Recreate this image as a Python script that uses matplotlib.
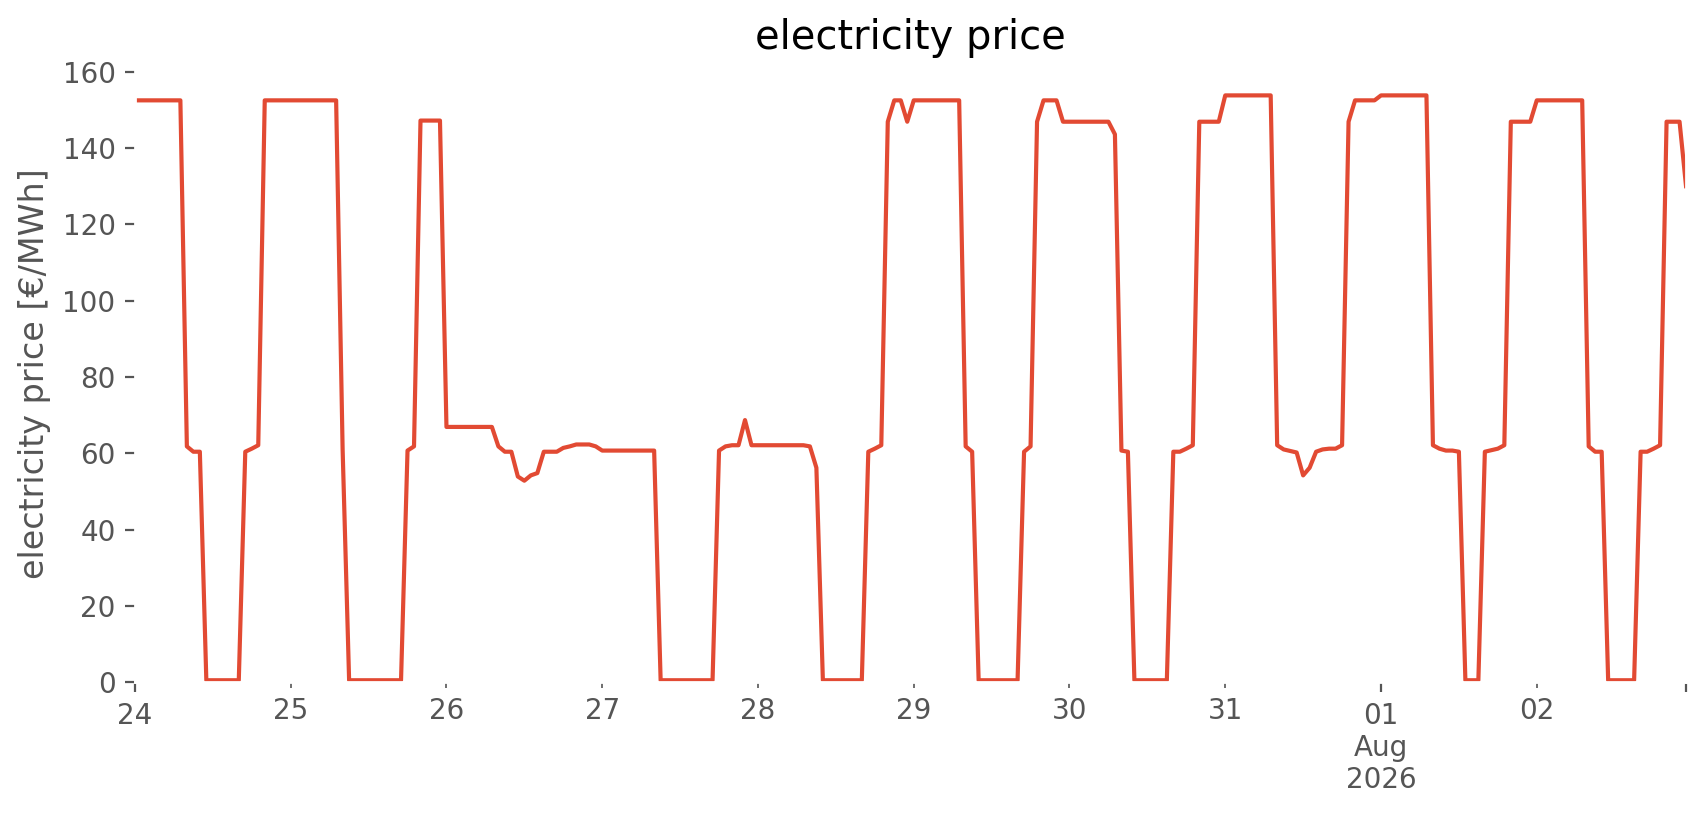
import matplotlib
matplotlib.use('Agg')
import matplotlib.pyplot as plt
import pandas as pd

# hourly prices in EUR/MWh, one list per day (Jul 24 - Aug 2, 2026)
start = '2026-07-24 00:00'
jul24 = [152.5] * 8 + [61.8, 60.4, 60.4] + [0.5] * 6 + [60.4, 61.2, 62.1] + [152.5] * 4
jul25 = [152.5] * 8 + [61.0] + [0.5] * 9 + [60.7, 61.8] + [147.2] * 4
jul26 = [66.9] * 8 + [61.8, 60.4, 60.4, 53.9, 52.8, 54.2, 54.8, 60.4,
                      60.4, 60.4, 61.4, 61.8, 62.3, 62.3, 62.3, 61.8]
jul27 = [60.7] * 9 + [0.5] * 9 + [60.7, 61.8, 62.1, 62.1, 68.7, 62.1]
jul28 = [62.1] * 8 + [61.8, 56.2] + [0.5] * 7 + [60.4, 61.2, 62.1, 146.9, 152.5, 152.5, 146.9]
jul29 = [152.5] * 8 + [61.8, 60.4] + [0.5] * 7 + [60.4, 61.8, 146.9] + [152.5] * 3 + [146.9]
jul30 = [146.9] * 7 + [143.6, 60.7, 60.4] + [0.5] * 6 + [60.4, 60.4, 61.2, 62.1] + [146.9] * 4
jul31 = [153.8] * 8 + [62.1, 61.0, 60.6, 60.2, 54.2, 56.2, 60.4, 61.0,
                       61.2, 61.2, 62.1, 146.9] + [152.5] * 4
aug01 = [153.8] * 8 + [62.1, 61.2, 60.7, 60.7, 60.4] + [0.5] * 3 + [60.4, 60.8, 61.2, 62.1] + [146.9] * 4
aug02 = [152.5] * 8 + [61.8, 60.4, 60.4] + [0.5] * 5 + [60.4, 60.4, 61.2, 62.1] + [146.9] * 3 + [130.0]

days = [jul24, jul25, jul26, jul27, jul28, jul29, jul30, jul31, aug01, aug02]
prices = [v for d in days for v in d]

plt.style.use('ggplot')
fig = plt.figure(figsize=(8.53, 4.075), dpi=200)
ax = fig.add_axes([0.0791, 0.163, 0.9092, 0.756])

idx = pd.date_range(start, periods=len(prices), freq='h')
pd.Series(prices, index=idx).plot(ax=ax)

ax.set_facecolor('white')
ax.grid(False)
ax.set_ylim(0, 161.5)
ax.set_title('electricity price')
ax.set_ylabel('electricity price [€/MWh]')
ax.set_xlabel('')

fig.savefig('out.png', dpi=200)
